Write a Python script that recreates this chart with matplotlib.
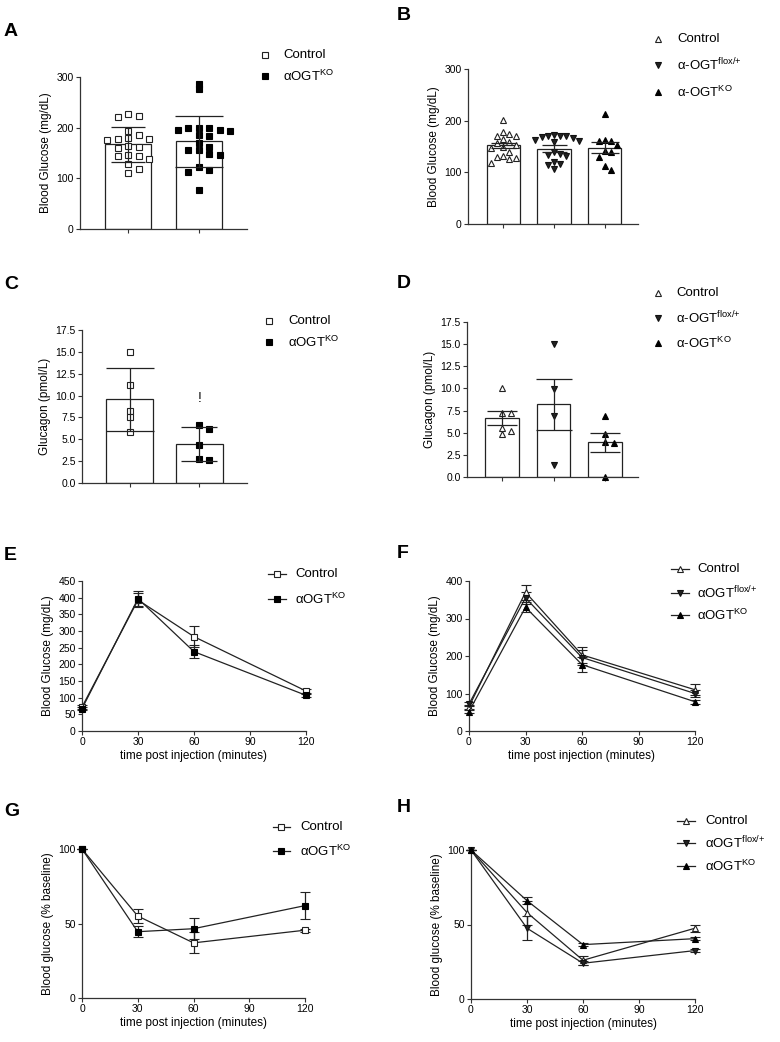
import matplotlib
matplotlib.use('Agg')
import matplotlib.pyplot as plt
import numpy as np
from matplotlib.lines import Line2D

plt.rcParams['font.family'] = ['Liberation Sans', 'DejaVu Sans']
plt.rcParams['mathtext.fontset'] = 'custom'
plt.rcParams['mathtext.rm'] = 'Liberation Sans'
plt.rcParams['mathtext.it'] = 'Liberation Sans:italic'

# ---------------- data ----------------
lab_ctrl = 'Control'
lab_ko = r'αOGT$^{\mathrm{KO}}$'
lab_flox_dash = r'α-OGT$^{\mathrm{flox/}{+}}$'
lab_ko_dash = r'α-OGT$^{\mathrm{KO}}$'
lab_flox = r'αOGT$^{\mathrm{flox/}{+}}$'

# A: blood glucose (mg/dL)
a_control = [223, 226, 222, 193, 178, 178, 180, 185, 175, 161, 163, 160, 147, 145, 145, 138, 128, 118, 110]
a_ko = [287, 276, 199, 195, 199, 195, 199, 194, 186, 183, 170, 155, 162, 155, 147, 149, 123, 113, 116, 76]
a_means = [167, 173]
a_err = [34, 51]

# B: blood glucose (mg/dL)
b_control = [201, 178, 174, 171, 170, 164, 158, 156, 153, 150, 148, 140, 131, 129, 127, 126, 118]
b_flox = [172, 171, 170, 168, 166, 163, 160, 158, 170, 140, 135, 133, 132, 120, 117, 115, 106]
b_ko = [212, 162, 160, 160, 153, 142, 140, 130, 113, 104]
b_means = [152, 146, 148]
b_err = [5, 6, 10]

# C: glucagon (pmol/L)
c_control = [15.0, 11.2, 8.2, 7.5, 5.8]
c_ko = [6.2, 6.6, 4.4, 2.6, 2.7]
c_means = [9.6, 4.5]
c_err = [3.6, 1.95]

# D: glucagon (pmol/L)
d_control = [10.0, 7.2, 7.2, 5.5, 4.8, 5.2]
d_flox = [15.0, 9.9, 6.9, 1.4]
d_ko = [6.9, 4.8, 4.0, 3.8, 0.0]
d_means = [6.7, 8.2, 3.9]
d_err = [0.8, 2.85, 1.1]

# time courses
time_min = [0, 30, 60, 120]
e_control = [72, 393, 283, 120]
e_control_err = [5, 20, 32, 5]
e_ko = [67, 397, 238, 107]
e_ko_err = [5, 22, 20, 4]

f_control = [65, 370, 203, 110]
f_control_err = [5, 20, 22, 15]
f_flox = [72, 355, 196, 100]
f_flox_err = [5, 15, 20, 10]
f_ko = [52, 330, 177, 78]
f_ko_err = [5, 13, 20, 6]

g_control = [100, 55, 37, 45.5]
g_control_err = [0, 4.5, 7, 1]
g_ko = [100, 44.5, 46.5, 62]
g_ko_err = [0, 3.5, 7, 9]

h_control = [100, 58, 26, 47.5]
h_control_err = [0, 8, 3, 2.5]
h_flox = [100, 47.5, 24, 32.5]
h_flox_err = [0, 8, 1.5, 1]
h_ko = [100, 66, 36.5, 40.5]
h_ko_err = [0, 2.5, 1, 1]

time_ticks = [0, 30, 60, 90, 120]

# ---------------- figure ----------------
W, H = 780, 1042
fig = plt.figure(figsize=(W / 100, H / 100), dpi=100)
DARK = '#222222'
AX = '#333333'


def make_ax(l, r, t, b):
    ax = fig.add_axes([l / W, 1 - b / H, (r - l) / W, (b - t) / H])
    for s in ['top', 'right']:
        ax.spines[s].set_visible(False)
    for s in ['left', 'bottom']:
        ax.spines[s].set_linewidth(0.9)
        ax.spines[s].set_color(AX)
    ax.tick_params(length=3, width=0.8, labelsize=7.5, pad=1.5, color=AX)
    return ax


def swarm_x(ax, xc, vals, step_px, ysz_px):
    pos = ax.get_position()
    wpx, hpx = pos.width * W, pos.height * H
    x0, x1 = ax.get_xlim()
    y0, y1 = ax.get_ylim()
    sx = wpx / (x1 - x0)
    sy = hpx / (y1 - y0)
    vals = np.asarray(vals, float)
    order = np.argsort(-vals, kind='stable')
    placed = []
    out = np.zeros(len(vals))
    ks = [0]
    for k in range(1, 10):
        ks += [k, -k]
    for i in order:
        yp = vals[i] * sy
        for k in ks:
            xp = k * step_px
            if all(not (abs(xp - px) < step_px * 0.95 and abs(yp - py) < ysz_px) for px, py in placed):
                break
        placed.append((xp, yp))
        out[i] = xc + xp / sx
    return out


def bar_panel(ax, groups, means, errs, styles, ylim, yticks, xlim, width, step_px, ysz_px, capsizes, ylabel, fmt):
    x = np.arange(len(means))
    ax.set_xlim(*xlim)
    ax.set_ylim(*ylim)
    ax.bar(x, means, width, color='white', edgecolor=DARK, linewidth=0.9, zorder=1)
    for i, (vals, st) in enumerate(zip(groups, styles)):
        xs = swarm_x(ax, i, vals, step_px, ysz_px)
        ax.plot(xs, vals, linestyle='none', clip_on=False, zorder=2, **st)
        ax.errorbar([i], [means[i]], yerr=[errs[i]], fmt='none', ecolor=DARK,
                    elinewidth=0.9, capthick=0.9, capsize=capsizes[i], zorder=3)
    ax.set_xticks(x)
    ax.set_xticklabels([''] * len(x))
    ax.set_yticks(yticks)
    ax.set_yticklabels([fmt.format(v) for v in yticks])
    ax.set_ylabel(ylabel, fontsize=8.5, labelpad=3)


def line_panel(ax, series, ylim, yticks, ylabel):
    ax.set_xlim(0, 120)
    ax.set_ylim(*ylim)
    for y, e, st in series:
        ax.errorbar(time_min, y, yerr=e, color=DARK, linewidth=0.9, elinewidth=0.9,
                    capsize=3.5, capthick=0.9, clip_on=False, zorder=3, **st)
    ax.set_xticks(time_ticks)
    ax.set_yticks(yticks)
    ax.set_ylabel(ylabel, fontsize=8.5, labelpad=3)
    ax.set_xlabel('time post injection (minutes)', fontsize=8.5, labelpad=2)


def panel_letter(x, y, s):
    fig.text(x / W, 1 - y / H, s, fontsize=14, fontweight='bold', va='center', ha='left')


def legend_item(xm, y, xt, label, style, line=None):
    yy = 1 - y / H
    if line is not None:
        fig.add_artist(Line2D([line[0] / W, line[1] / W], [yy, yy], color=DARK, lw=0.9,
                              transform=fig.transFigure))
    fig.add_artist(Line2D([xm / W], [yy], linestyle='none', transform=fig.transFigure, **style))
    fig.text(xt / W, yy, label, fontsize=9.5, va='center', ha='left')


sq_open = dict(marker='s', markersize=4.2, mfc='white', mec=DARK, mew=0.8)
sq_fill = dict(marker='s', markersize=4.2, mfc='black', mec='black', mew=0.8)
tri_open = dict(marker='^', markersize=4.6, mfc='white', mec=DARK, mew=0.8)
tri_down = dict(marker='v', markersize=4.6, mfc='#222222', mec='#111111', mew=0.8)
tri_fill = dict(marker='^', markersize=4.6, mfc='black', mec='black', mew=0.8)

# ---- A ----
axA = make_ax(80, 247, 77, 229)
bar_panel(axA, [a_control, a_ko], a_means, a_err, [sq_open, sq_fill], (0, 300), [0, 100, 200, 300],
          (-0.68, 1.68), 0.66, 10.4, 5.5, [12, 17], 'Blood Glucose (mg/dL)', '{:.0f}')
panel_letter(4, 31, 'A')
legend_item(265, 55, 283, lab_ctrl, sq_open)
legend_item(265, 76, 283, lab_ko, sq_fill)

# ---- B ----
axB = make_ax(468, 638, 69, 224)
bar_panel(axB, [b_control, b_flox, b_ko], b_means, b_err, [tri_open, tri_down, tri_fill], (0, 300),
          [0, 100, 200, 300], (-0.69, 2.65), 0.65, 6.2, 7.0, [9, 9, 10], 'Blood Glucose (mg/dL)', '{:.0f}')
panel_letter(397, 16, 'B')
legend_item(658, 39, 677, lab_ctrl, tri_open)
legend_item(658, 65, 677, lab_flox_dash, tri_down)
legend_item(658, 92, 677, lab_ko_dash, tri_fill)

# ---- C ----
axC = make_ax(82, 247, 330, 483)
c_ticks = [0, 2.5, 5, 7.5, 10, 12.5, 15, 17.5]
bar_panel(axC, [c_control, c_ko], c_means, c_err, [sq_open, sq_fill], (0, 17.5), c_ticks,
          (-0.68, 1.68), 0.66, 10.0, 5.5, [17, 13], 'Glucagon (pmol/L)', '{:.1f}')
axC.text(1, 9.7, '!', ha='center', va='center', fontsize=10)
panel_letter(4, 285, 'C')
legend_item(269, 321, 288, lab_ctrl, sq_open)
legend_item(269, 342, 288, lab_ko, sq_fill)

# ---- D ----
axD = make_ax(467, 638, 322, 477)
bar_panel(axD, [d_control, d_flox, d_ko], d_means, d_err, [tri_open, tri_down, tri_fill], (0, 17.5), c_ticks,
          (-0.69, 2.65), 0.66, 9.0, 5.0, [11, 13, 11], 'Glucagon (pmol/L)', '{:.1f}')
panel_letter(397, 283, 'D')
legend_item(658, 293, 676, lab_ctrl, tri_open)
legend_item(658, 318, 676, lab_flox_dash, tri_down)
legend_item(658, 343, 676, lab_ko_dash, tri_fill)

# ---- E ----
axE = make_ax(82, 306, 581, 731)
line_panel(axE, [(e_control, e_control_err, sq_open), (e_ko, e_ko_err, sq_fill)],
           (0, 450), list(range(0, 451, 50)), 'Blood Glucose (mg/dL)')
panel_letter(4, 555, 'E')
legend_item(277, 574, 295, lab_ctrl, sq_open, line=(268, 286))
legend_item(277, 599, 295, lab_ko, sq_fill, line=(268, 286))

# ---- F ----
axF = make_ax(469, 695, 581, 731)
line_panel(axF, [(f_control, f_control_err, tri_open), (f_flox, f_flox_err, tri_down),
                 (f_ko, f_ko_err, tri_fill)],
           (0, 400), [0, 100, 200, 300, 400], 'Blood Glucose (mg/dL)')
panel_letter(397, 553, 'F')
legend_item(680, 569, 697, lab_ctrl, tri_open, line=(671, 689))
legend_item(680, 593, 697, lab_flox, tri_down, line=(671, 689))
legend_item(680, 615, 697, lab_ko, tri_fill, line=(671, 689))

# ---- G ----
axG = make_ax(82, 305, 849, 998)
line_panel(axG, [(g_control, g_control_err, sq_open), (g_ko, g_ko_err, sq_fill)],
           (0, 100), [0, 50, 100], 'Blood glucose (% baseline)')
panel_letter(4, 812, 'G')
legend_item(281, 827, 300, lab_ctrl, sq_open, line=(273, 290))
legend_item(281, 851, 300, lab_ko, sq_fill, line=(273, 290))

# ---- H ----
axH = make_ax(471, 695, 850, 999)
line_panel(axH, [(h_control, h_control_err, tri_open), (h_flox, h_flox_err, tri_down),
                 (h_ko, h_ko_err, tri_fill)],
           (0, 100), [0, 50, 100], 'Blood glucose (% baseline)')
panel_letter(397, 808, 'H')
legend_item(686, 821, 705, lab_ctrl, tri_open, line=(677, 695))
legend_item(686, 843, 705, lab_flox, tri_down, line=(677, 695))
legend_item(686, 866, 705, lab_ko, tri_fill, line=(677, 695))

fig.savefig('out.png', dpi=100, facecolor='white')
